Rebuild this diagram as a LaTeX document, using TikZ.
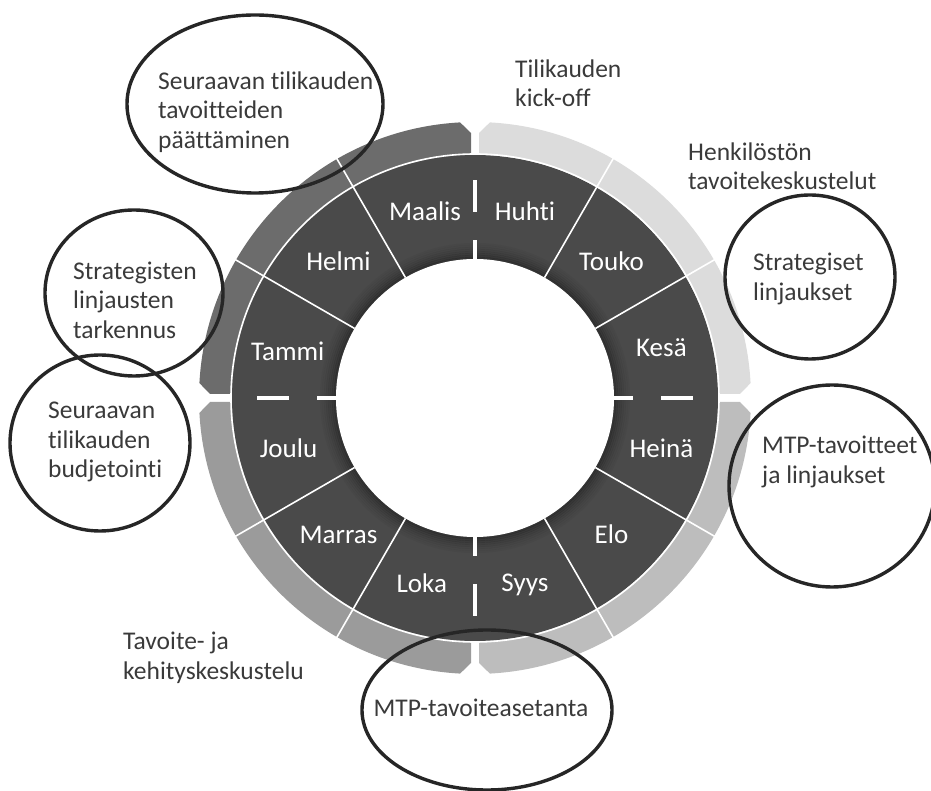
\documentclass[tikz,border=0pt]{standalone}
\usepackage{fontspec}
\setmainfont{Carlito}[Ligatures=NoCommon]
\definecolor{wheel}{HTML}{4A4A4A}
\definecolor{bandUL}{HTML}{6C6C6C}
\definecolor{bandUR}{HTML}{DCDCDC}
\definecolor{bandLR}{HTML}{BDBDBD}
\definecolor{bandLL}{HTML}{9B9B9B}
\definecolor{txtgray}{HTML}{3A3A3A}
\definecolor{ringline}{HTML}{262626}
\begin{document}
\begin{tikzpicture}[x=1pt,y=1pt,
  lbl/.style={font=\fontsize{25.5}{29.5}\selectfont, text=txtgray, align=left, inner sep=0pt},
  month/.style={font=\fontsize{27}{30}\selectfont, text=white, inner sep=0pt},
  bubble/.style={draw=ringline, line width=3.4pt},
  sep/.style={white, line width=1.6pt},
  axisdash/.style={white, line width=3.2pt},
]
\useasboundingbox (-475,-393) rectangle (456,398);

% outer quarter bands with chamfered ends
\foreach \k/\c in {0/bandUR,1/bandUL,2/bandLL,3/bandLR}{
  \begin{scope}[rotate=90*\k]
    \fill[\c] (229.97,4) -- (265,4) -- (3.1:276)
      arc[start angle=3.1, end angle=86.9, radius=276]
      -- (4,265) -- (4,229.97)
      arc[start angle=89, end angle=1, radius=230] -- cycle;
  \end{scope}
}

% month ring
\fill[wheel] (0,0) circle (243);
% soft shadow around the hub
\foreach \r/\o in {140/0.30,142/0.25,144/0.20,146/0.15,148/0.11,150/0.08,152/0.05,154/0.03}
  \draw[black, opacity=\o, line width=2.2pt] (0,0) circle (\r);
\draw[sep] (0,0) circle (244);

% month dividers
\foreach \a in {30,60,120,150,210,240,300,330}
  \draw[sep] (\a:139) -- (\a:278);
% quarter dividers
\foreach \a in {0,90,180,270}{
  \draw[axisdash] (\a:186) -- (\a:218);
  \draw[axisdash] (\a:137) -- (\a:158);
}

% hub
\fill[white] (0,0) circle (139);

% month names
\foreach \name/\ang [count=\i] in {Kesä/15,Touko/45,Huhti/75,Maalis/105,Helmi/135,Tammi/166,Joulu/195,Marras/225,Loka/254,Syys/285,Elo/315,Heinä/345}
  \node[month] (m\i) at (\ang:193) {\name};

% bubbles
\draw[bubble] (-220,294) ellipse [x radius=128, y radius=89];
\draw[bubble] (-341,105) ellipse [x radius=89, y radius=83];
\draw[bubble] (-375,-45) ellipse [x radius=90, y radius=88];
\draw[bubble] (335,121) ellipse [x radius=85, y radius=82];
\draw[bubble] (357,-88) ellipse [x radius=103, y radius=101];
\draw[bubble] (12,-312) ellipse [x radius=125, y radius=80];

% bubble texts
\node[lbl, anchor=west] (t1) at (-317,286) {Seuraavan tilikauden\\tavoitteiden\\päättäminen};
\node[lbl, anchor=west] (t2) at (-402,98) {Strategisten\\linjausten\\tarkennus};
\node[lbl, anchor=west] (t3) at (-427,-44) {Seuraavan\\tilikauden\\budjetointi};
\node[lbl, anchor=west] (t4) at (278,119) {Strategiset\\linjaukset};
\node[lbl, anchor=west] (t5) at (287,-64) {MTP-tavoitteet\\ja linjaukset};
\node[lbl] (t6) at (6,-310) {MTP-tavoiteasetanta};

% free labels
\node[lbl, anchor=west] (k1) at (40,315) {Tilikauden\\kick-off};
\node[lbl, anchor=west] (k2) at (213,232) {Henkilöstön\\tavoitekeskustelut};
\node[lbl, anchor=west] (k3) at (-352,-260) {Tavoite- ja\\kehityskeskustelu};
\end{tikzpicture}
\end{document}
